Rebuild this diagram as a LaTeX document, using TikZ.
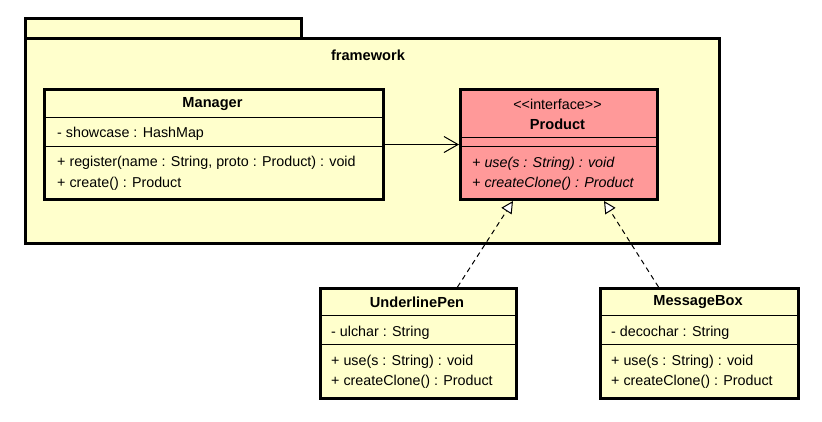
\documentclass[tikz,border=0pt]{standalone}
\usepackage{fontspec}
\setmainfont{Liberation Sans}
\usetikzlibrary{arrows.meta,calc}
\definecolor{pkgyellow}{RGB}{255,255,204}
\definecolor{ifacered}{RGB}{255,153,153}
\tikzset{
  box/.style={draw=black, line width=3pt, inner sep=0pt, anchor=north west},
  sep/.style={draw=black, line width=1pt},
  title/.style={font=\fontsize{14.6pt}{17pt}\selectfont\bfseries, inner sep=0pt, yshift=-1.5pt},
  stereo/.style={font=\fontsize{14.3pt}{17pt}\selectfont, inner sep=0pt, yshift=-1.5pt},
  member/.style={font=\fontsize{14.3pt}{17pt}\selectfont, inner sep=0pt, anchor=west, yshift=-1.5pt},
  imember/.style={member, font=\fontsize{14.3pt}{17pt}\selectfont\itshape},
  assoc/.style={draw=black, line width=1pt, -{Straight Barb[length=14pt,width=16pt]}},
  real/.style={draw=black, line width=1pt, dash pattern=on 5pt off 4pt, -{Triangle[length=12pt,width=12pt,fill=white]}},
}
\begin{document}
\begin{tikzpicture}[x=1pt,y=-1pt]
\useasboundingbox (0,0) rectangle (822,421);
% package
\node[box, fill=pkgyellow, minimum width=276pt, minimum height=20pt] (tab) at (24,17) {};
\node[box, fill=pkgyellow, minimum width=694pt, minimum height=205pt] (pkg) at (24,37) {};
\node[title] (pkgname) at (368,54) {framework};
% Manager
\node[box, fill=pkgyellow, minimum width=339pt, minimum height=110pt] (mgr) at (43,88) {};
\draw[sep] (43,117) -- (382,117);
\draw[sep] (43,146) -- (382,146);
\node[title] (mgrname) at (212.5,103) {Manager};
\node[member] (mgra) at (57,132) {- showcase : HashMap};
\node[member] (mgrm1) at (57,161) {+ register(name : String, proto : Product) : void};
\node[member] (mgrm2) at (57,182) {+ create() : Product};
% Product
\node[box, fill=ifacered, minimum width=197pt, minimum height=110pt] (prod) at (459,88) {};
\draw[sep] (459,137) -- (656,137);
\draw[sep] (459,146) -- (656,146);
\node[stereo] (prodst) at (557.5,103) {{<}{<}interface{>}{>}};
\node[title] (prodname) at (557.5,123) {Product};
\node[imember] (prodm1) at (472,162) {+ use(s : String) : void};
\node[imember] (prodm2) at (472,182) {+ createClone() : Product};
% UnderlinePen
\node[box, fill=pkgyellow, minimum width=196pt, minimum height=110pt] (up) at (319,287) {};
\draw[sep] (319,315) -- (515,315);
\draw[sep] (319,344) -- (515,344);
\node[title] (upname) at (417,301) {UnderlinePen};
\node[member] (upa) at (331,331) {- ulchar : String};
\node[member] (upm1) at (331,360) {+ use(s : String) : void};
\node[member] (upm2) at (331,380) {+ createClone() : Product};
% MessageBox
\node[box, fill=pkgyellow, minimum width=198pt, minimum height=110pt] (mb) at (599,287) {};
\draw[sep] (599,315) -- (797,315);
\draw[sep] (599,344) -- (797,344);
\node[title] (mbname) at (698,301) {MessageBox};
\node[member] (mba) at (611,331) {- decochar : String};
\node[member] (mbm1) at (611,360) {+ use(s : String) : void};
\node[member] (mbm2) at (611,380) {+ createClone() : Product};
% connectors
\draw[assoc] (mgr.east) -- (prod.west);
\draw[real] ([xshift=39pt]up.north) -- ([xshift=-46pt]prod.south);
\draw[real] ([xshift=-41pt]mb.north) -- ([xshift=45pt]prod.south);
\end{tikzpicture}
\end{document}
